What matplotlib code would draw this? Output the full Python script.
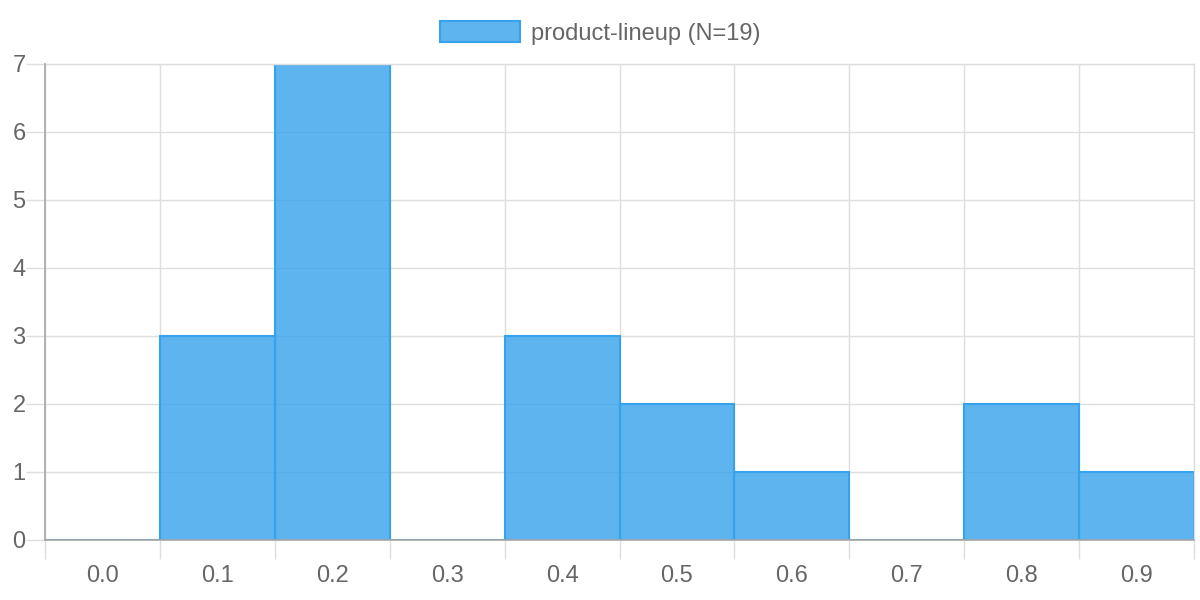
import matplotlib
matplotlib.use("Agg")
import matplotlib.pyplot as plt
from matplotlib.patches import Patch

categories = ["0.0", "0.1", "0.2", "0.3", "0.4", "0.5", "0.6", "0.7", "0.8", "0.9"]
counts = [0, 3, 7, 0, 3, 2, 1, 0, 2, 1]
series_label = "product-lineup (N=19)"

plt.rcParams['font.family'] = ['Liberation Sans', 'DejaVu Sans']

fill = (54/255, 162/255, 235/255, 0.8)
edge = "#36a2eb"
grid_c = "#dedede"
axis_c = "#a6a6a6"
text_c = "#666666"

fig = plt.figure(figsize=(12, 6), dpi=100)
ax = fig.add_axes([45/1200, 1 - 540/600, (1194-45)/1200, (540-64)/600])

n = len(categories)
pos = list(range(n))
ax.bar(pos, counts, width=1.0, align='edge', color=fill, edgecolor=edge,
       linewidth=1.5, zorder=2)

ax.set_xlim(0, n)
ax.set_ylim(0, 7)

ax.set_xticks(range(n + 1))
ax.set_xticklabels([])
ax.set_xticks([p + 0.5 for p in pos], minor=True)
ax.set_xticklabels(categories, minor=True)
ax.tick_params(axis='x', which='major', length=14, color=grid_c, width=1)
ax.tick_params(axis='x', which='minor', length=0, pad=18, labelsize=17, labelcolor=text_c)

ax.set_yticks(range(0, 8))
ax.tick_params(axis='y', length=14, color=grid_c, width=1, pad=0, labelsize=17, labelcolor=text_c)

ax.grid(True, which='major', color=grid_c, linewidth=1, zorder=0)
ax.set_axisbelow(True)

for s in ['top', 'right']:
    ax.spines[s].set_color(grid_c)
    ax.spines[s].set_linewidth(1)
for s in ['left', 'bottom']:
    ax.spines[s].set_color(axis_c)
    ax.spines[s].set_linewidth(1.2)
    ax.spines[s].set_zorder(3)

handle = Patch(facecolor=fill, edgecolor=edge, linewidth=1.5)
leg = fig.legend([handle], [series_label], loc='upper center', bbox_to_anchor=(0.5, 1.0),
                 frameon=False, fontsize=17, handlelength=3.4, handleheight=1.0,
                 handletextpad=0.45, labelcolor=text_c)

fig.savefig("out.png", dpi=100)
